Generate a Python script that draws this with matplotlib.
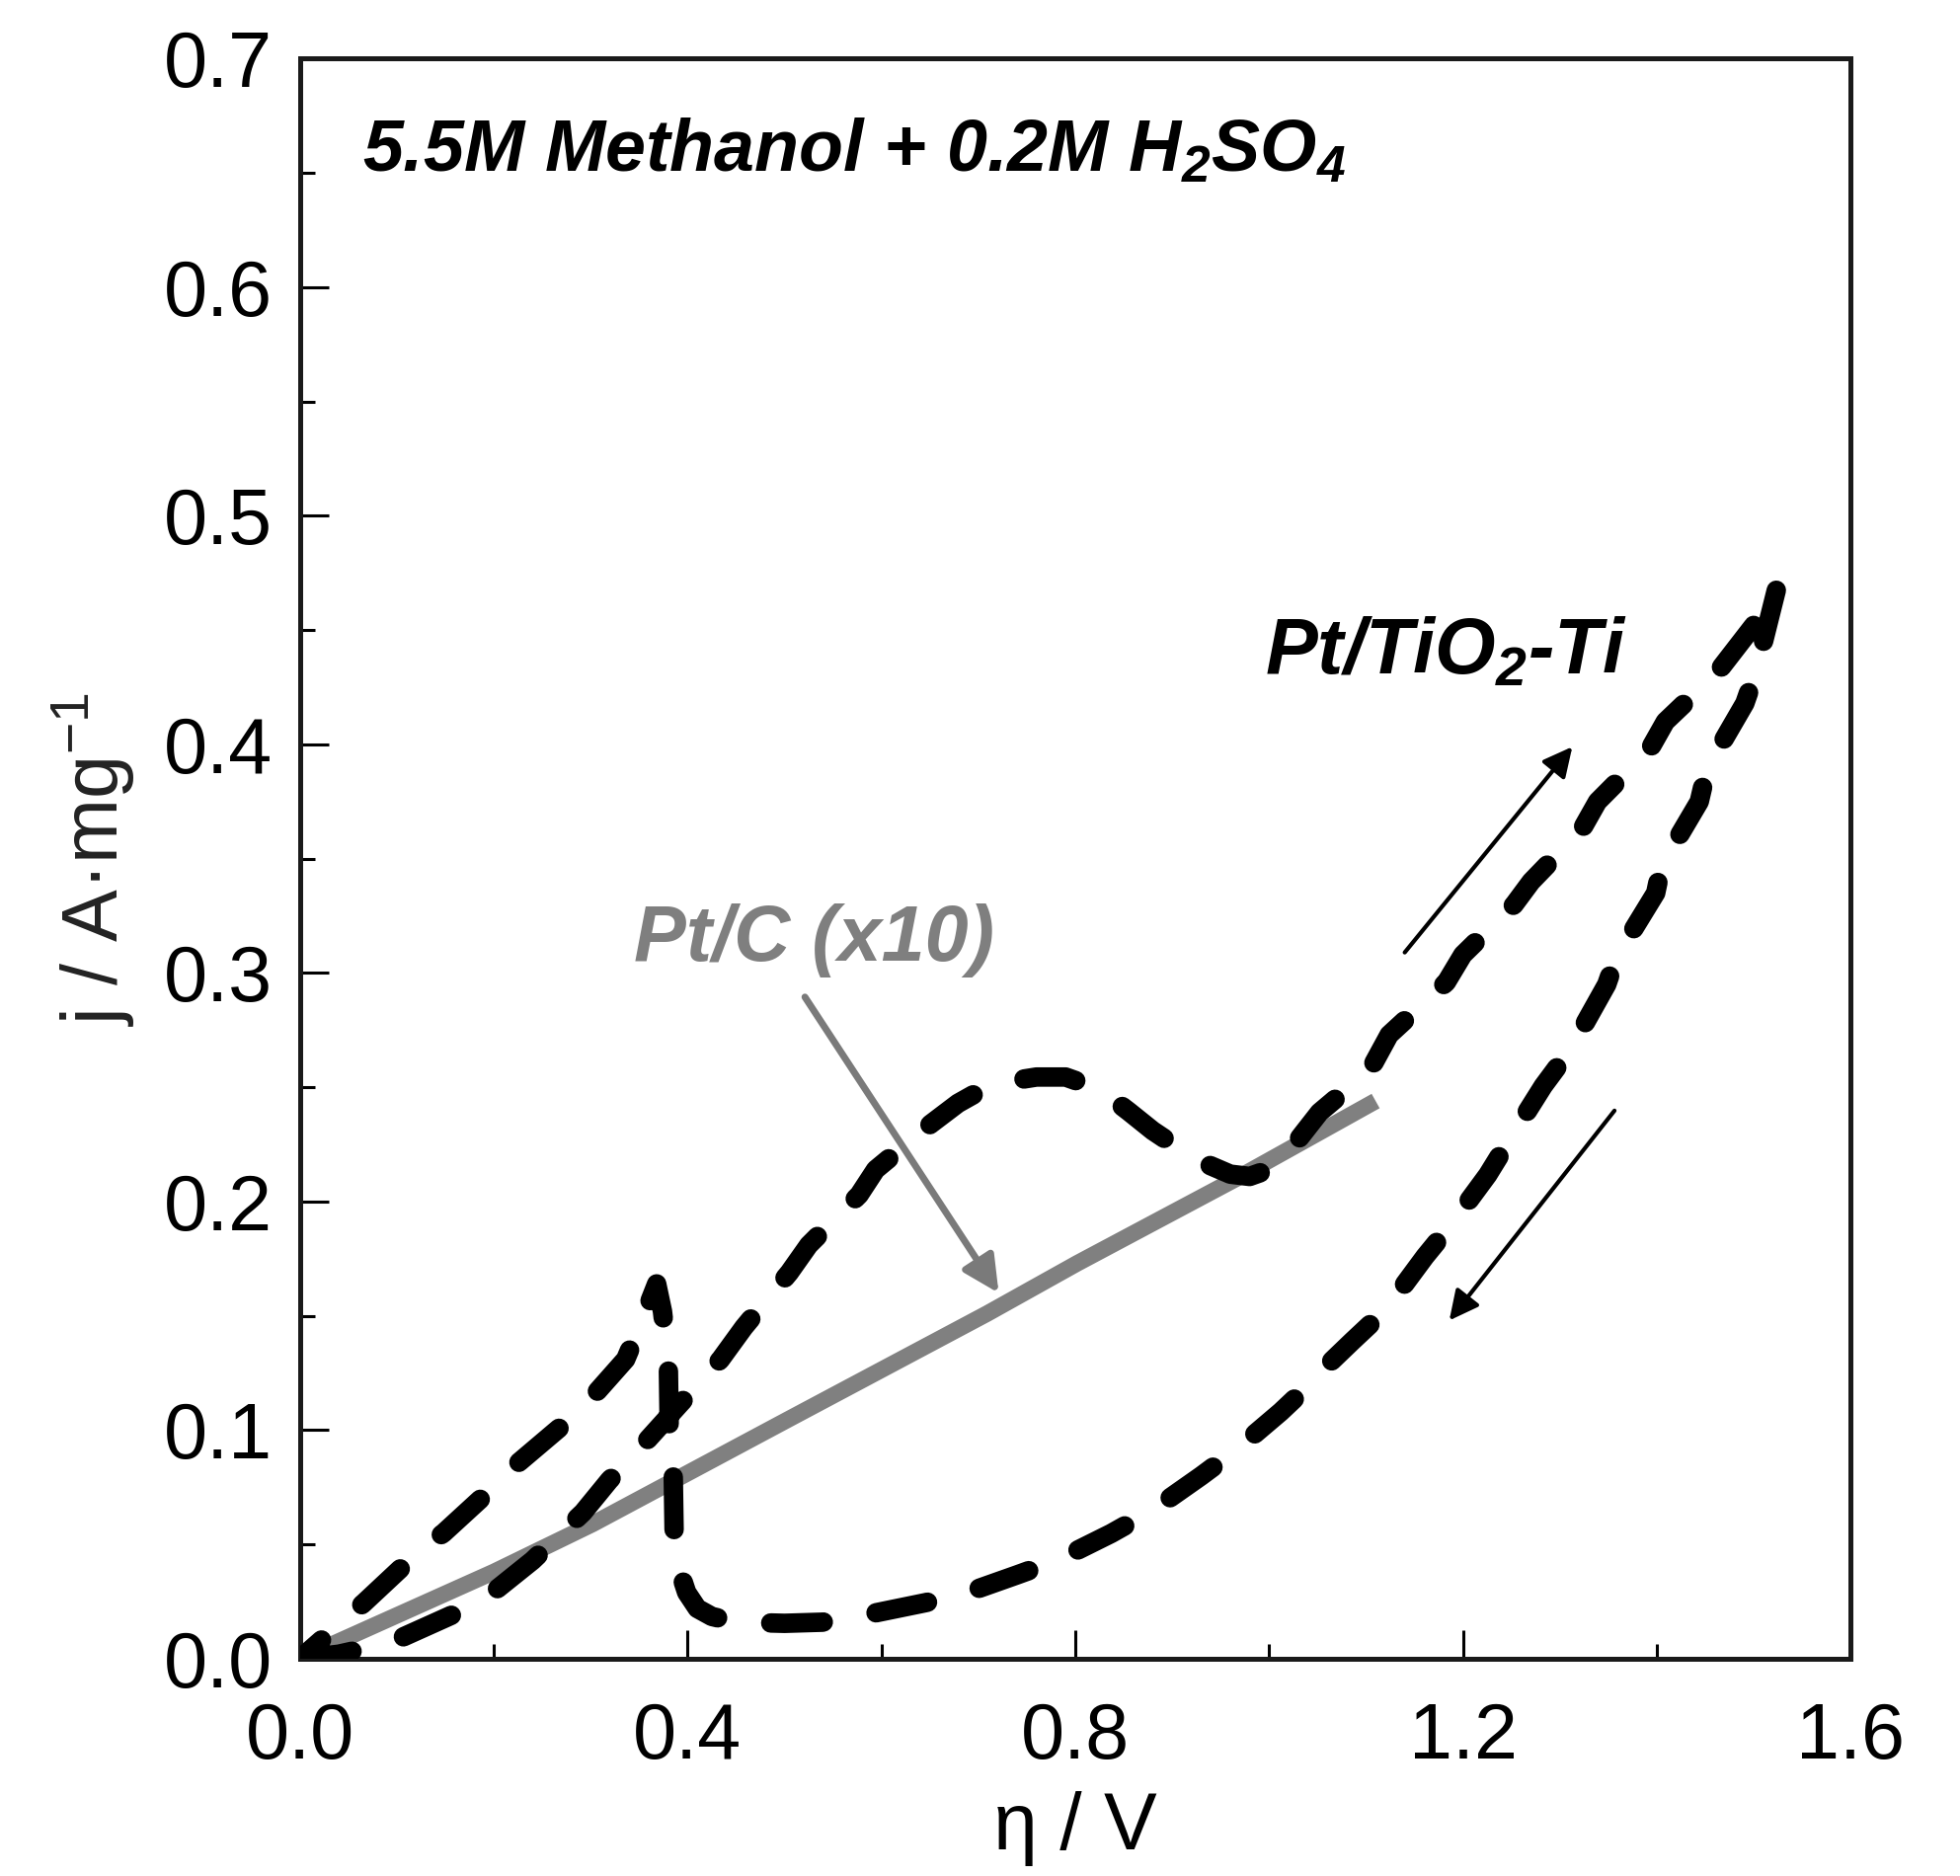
import matplotlib

matplotlib.use("Agg")
import matplotlib.pyplot as plt
from matplotlib.ticker import MultipleLocator

plt.rcParams["font.family"] = ["Liberation Sans", "DejaVu Sans"]
plt.rcParams["mathtext.fontset"] = "custom"
plt.rcParams["mathtext.rm"] = "Liberation Sans"
plt.rcParams["mathtext.it"] = "Liberation Sans:italic"
plt.rcParams["mathtext.bf"] = "Liberation Sans:bold:italic"

# Pt/TiO2-Ti, forward (anodic) sweep
fwd_eta = [0.0, 0.04, 0.093, 0.156, 0.19, 0.24, 0.292, 0.319, 0.359, 0.391, 0.434,
           0.458, 0.505, 0.525, 0.577, 0.594, 0.651, 0.679, 0.70, 0.73, 0.76, 0.79,
           0.81, 0.835, 0.855, 0.88, 0.91, 0.938, 0.96, 0.98, 1.0, 1.028, 1.052, 1.08,
           1.106, 1.124, 1.183, 1.200, 1.253, 1.2705, 1.323, 1.339, 1.393, 1.409,
           1.4635, 1.50, 1.525]
fwd_j = [0.0, 0.002, 0.007, 0.019, 0.026, 0.043, 0.064, 0.078, 0.096, 0.111, 0.131,
         0.145, 0.169, 0.181, 0.203, 0.214, 0.234, 0.243, 0.248, 0.2525, 0.2545, 0.2545,
         0.2515, 0.246, 0.2395, 0.231, 0.2225, 0.216, 0.212, 0.211, 0.214, 0.226, 0.239,
         0.249, 0.259, 0.273, 0.296, 0.308, 0.330, 0.340, 0.363, 0.375, 0.398, 0.41,
         0.432, 0.452, 0.47]

# Pt/TiO2-Ti, reverse sweep
rev_eta = [1.525, 1.5026, 1.491, 1.452, 1.444, 1.405, 1.399, 1.358, 1.3485, 1.311,
           1.283, 1.249, 1.2257, 1.188, 1.161, 1.120, 1.086, 1.059, 1.042, 1.012,
           0.964, 0.930, 0.879, 0.837, 0.781, 0.740, 0.682, 0.645, 0.577, 0.539,
           0.50, 0.472, 0.445, 0.425, 0.41, 0.399, 0.392, 0.388, 0.386, 0.385, 0.381,
           0.380, 0.374, 0.368, 0.355, 0.336, 0.29, 0.226, 0.202, 0.148, 0.124, 0.066,
           0.0]
rev_j = [0.47, 0.432, 0.418, 0.3895, 0.375, 0.347, 0.335, 0.3066, 0.295, 0.2666,
         0.2506, 0.2277, 0.2117, 0.190, 0.176, 0.1525, 0.139, 0.128, 0.12, 0.108,
         0.0907, 0.080, 0.0648, 0.0548, 0.043, 0.0367, 0.028, 0.0245, 0.0186, 0.016,
         0.0155, 0.0158, 0.0165, 0.0185, 0.022, 0.029, 0.038, 0.047, 0.056, 0.0835,
         0.10, 0.13, 0.152, 0.164, 0.150, 0.131, 0.109, 0.086, 0.076, 0.055, 0.0475,
         0.0245, 0.0]

# Pt/C (x10)
ptc_eta = [0.0, 0.1, 0.2, 0.302, 0.505, 0.709, 0.802, 0.966, 1.11]
ptc_j = [0.0, 0.019, 0.038, 0.059, 0.105, 0.151, 0.173, 0.21, 0.244]

x_ticks = [0.0, 0.4, 0.8, 1.2, 1.6]
y_ticks = [0.0, 0.1, 0.2, 0.3, 0.4, 0.5, 0.6, 0.7]

fig = plt.figure(figsize=(19.85, 19.0), dpi=100)
ax = fig.add_axes([0.1531, 0.1158, 0.791, 0.8529])

ax.plot(ptc_eta, ptc_j, color="#808080", lw=12, solid_capstyle="butt",
        solid_joinstyle="round", zorder=2)
ax.plot(fwd_eta + rev_eta[1:], fwd_j + rev_j[1:], color="black", lw=14.2,
        linestyle=(0, (2.7, 2.75)), dash_capstyle="round", dash_joinstyle="round",
        zorder=3)

# sweep direction arrows
ax.annotate("", xy=(1.313, 0.399), xytext=(1.140, 0.309),
            arrowprops=dict(arrowstyle="-|>", color="black", lw=3,
                            mutation_scale=45, shrinkA=0, shrinkB=0))
ax.annotate("", xy=(1.186, 0.148), xytext=(1.3565, 0.2398),
            arrowprops=dict(arrowstyle="-|>", color="black", lw=3,
                            mutation_scale=45, shrinkA=0, shrinkB=0))
ax.annotate("", xy=(0.721, 0.160), xytext=(0.521, 0.2895),
            arrowprops=dict(arrowstyle="-|>", color="#7a7a7a", lw=5,
                            mutation_scale=55, shrinkA=0, shrinkB=0), zorder=4)

ax.text(0.0639, 0.651, r"5.5M Methanol + 0.2M H$_\mathbf{2}$SO$_\mathbf{4}$",
        fontsize=53, fontweight="bold", style="italic", ha="left", va="baseline")
ax.text(0.9957, 0.431, r"Pt/TiO$_\mathbf{2}$-Ti", fontsize=57, fontweight="bold",
        style="italic", ha="left", va="baseline")
ax.text(0.345, 0.3055, "Pt/C (x10)", fontsize=57, fontweight="bold", style="italic",
        color="#7f7f7f", ha="left", va="baseline")

ax.set_xlim(0, 1.6)
ax.set_ylim(0, 0.7)
ax.set_xticks(x_ticks)
ax.set_xticklabels([f"{v:.1f}" for v in x_ticks])
ax.set_yticks(y_ticks)
ax.set_yticklabels([f"{v:.1f}" for v in y_ticks])
ax.xaxis.set_minor_locator(MultipleLocator(0.2))
ax.yaxis.set_minor_locator(MultipleLocator(0.05))
ax.tick_params(which="major", direction="in", length=21, width=2.2, labelsize=57,
               top=False, right=False)
ax.tick_params(which="minor", direction="in", length=11, width=2.2,
               top=False, right=False)
ax.tick_params(axis="x", pad=31)
ax.tick_params(axis="y", pad=20)
for s in ax.spines.values():
    s.set_linewidth(3.6)
    s.set_color("#1a1a1a")

ax.set_xlabel("η / V", fontsize=58)
ax.set_ylabel(r"j / A·mg$^{\mathrm{-1}}$", fontsize=57, color="#222222")
ax.xaxis.set_label_coords(0.5, -0.083)
ax.yaxis.set_label_coords(-0.105, 0.5)

fig.savefig("out.png", dpi=100)
